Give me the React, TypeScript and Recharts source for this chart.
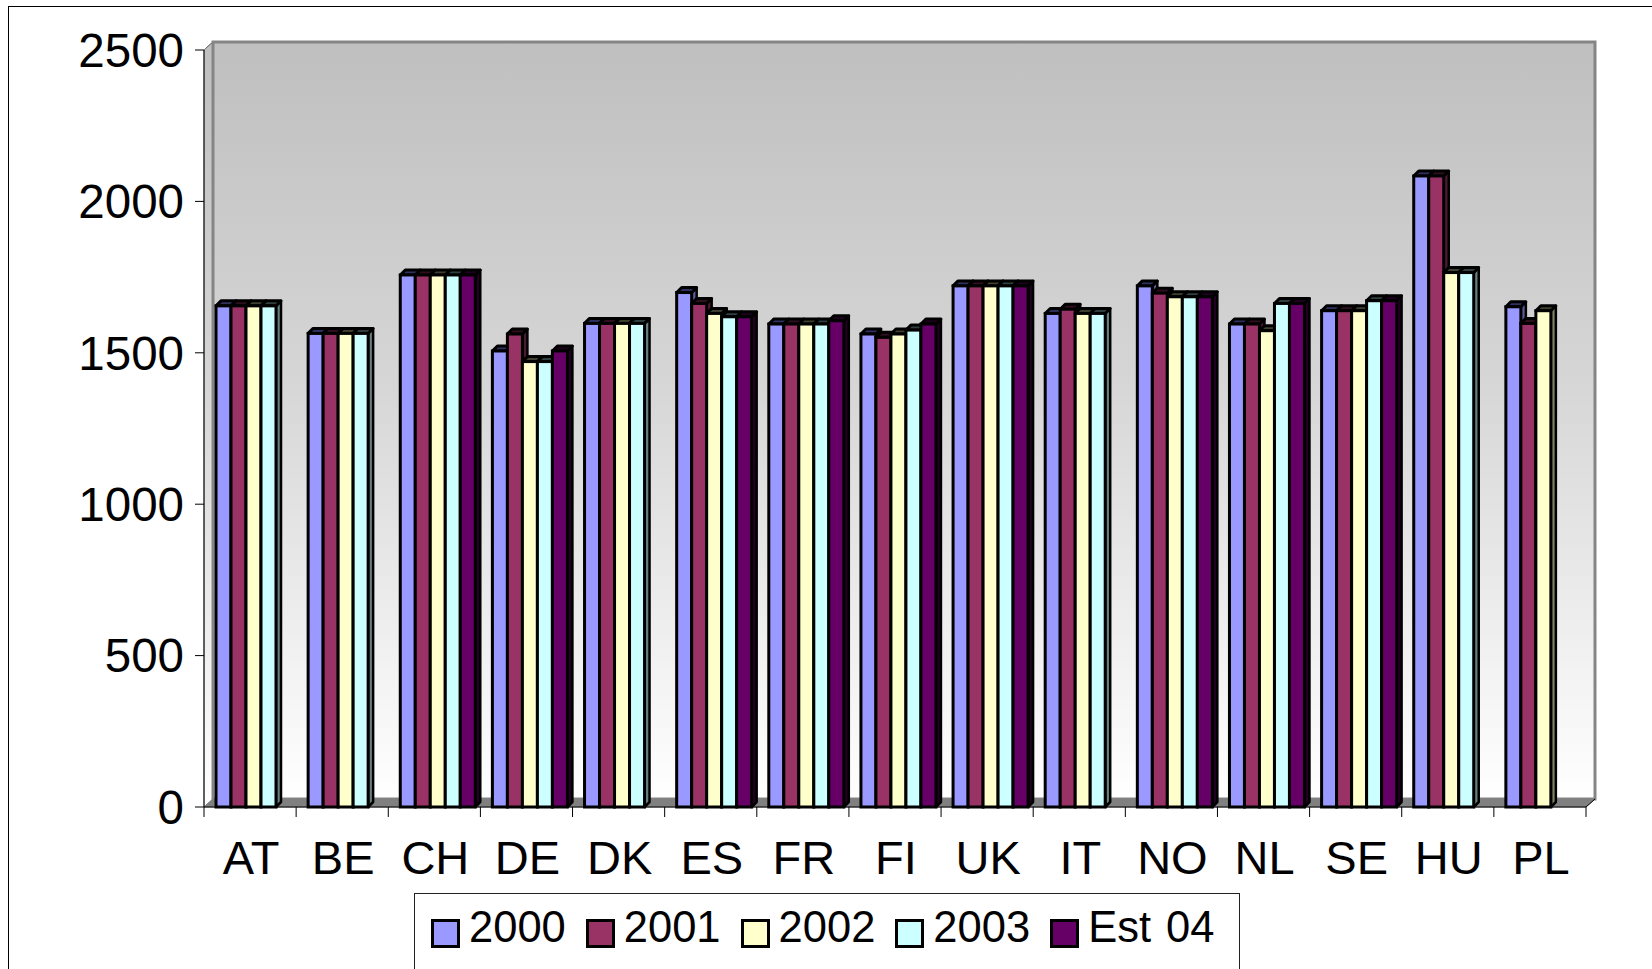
import { Bar, BarChart, CartesianGrid, Legend, ReferenceArea, XAxis, YAxis } from 'recharts';

const countries = ['AT', 'BE', 'CH', 'DE', 'DK', 'ES', 'FR', 'FI', 'UK', 'IT', 'NO', 'NL', 'SE', 'HU', 'PL'];

const y2000 = [1655, 1564, 1757, 1506, 1597, 1699, 1595, 1562, 1721, 1630, 1721, 1595, 1639, 2084, 1652];
const y2001 = [1655, 1564, 1757, 1562, 1597, 1663, 1595, 1551, 1721, 1644, 1697, 1595, 1639, 2084, 1597];
const y2002 = [1655, 1564, 1757, 1471, 1597, 1630, 1595, 1562, 1721, 1630, 1685, 1573, 1639, 1765, 1639];
const y2003 = [1655, 1564, 1757, 1471, 1597, 1619, 1595, 1575, 1721, 1630, 1685, 1663, 1672, 1765, null];
const est04 = [null, null, 1757, 1506, null, 1619, 1606, 1595, 1721, null, 1685, 1663, 1672, null, null];

const yTicks = [0, 500, 1000, 1500, 2000, 2500];

const series = [
  { key: 'y2000', name: '2000', values: y2000, fill: '#9999ff', top: '#303060', side: '#5c5c99' },
  { key: 'y2001', name: '2001', values: y2001, fill: '#993366', top: '#301020', side: '#4d1a33' },
  { key: 'y2002', name: '2002', values: y2002, fill: '#ffffcc', top: '#404030', side: '#808066' },
  { key: 'y2003', name: '2003', values: y2003, fill: '#ccffff', top: '#304040', side: '#668080' },
  { key: 'est04', name: 'Est 04', values: est04, fill: '#660066', top: '#200020', side: '#220022' },
];

const data = countries.map((c, i) => {
  const row: Record<string, string | number | null> = { country: c };
  series.forEach((s) => {
    row[s.key] = s.values[i];
  });
  return row;
});

const FONT = '"Liberation Sans", Arial, sans-serif';
const W = 1652;
const H = 969;
const PLOT_W = 1382;
// 3D depth of the chart walls and of the columns
const WALL_DX = 9;
const WALL_DY = 8;
const DX = 5;
const DY = 5;
const SHIFT = 4;

const Bar3D = (props: any) => {
  const { x, y, width, height, fill, top, side } = props;
  if (!height || height <= 0) return null;
  const x0 = x + SHIFT;
  const x1 = x0 + width;
  return (
    <g>
      <polygon
        points={`${x1},${y} ${x1 + DX},${y - DY} ${x1 + DX},${y + height - DY} ${x1},${y + height}`}
        fill={side}
        stroke="#000"
        strokeWidth={2.5}
        strokeLinejoin="round"
      />
      <polygon
        points={`${x0},${y} ${x0 + DX},${y - DY} ${x1 + DX},${y - DY} ${x1},${y}`}
        fill={top}
        stroke="#000"
        strokeWidth={3}
        strokeLinejoin="round"
      />
      <rect x={x0} y={y} width={width} height={height} fill={fill} stroke="#000" strokeWidth={3} />
    </g>
  );
};

const Walls = (props: any) => {
  const { x, y, width, height } = props;
  const bx = x + WALL_DX;
  const by = y - WALL_DY;
  const bottom = y + height;
  return (
    <g>
      <defs>
        <linearGradient id="wall" x1="0" x2="0" y1="0" y2="1">
          <stop offset="0%" stopColor="#bfbfbf" />
          <stop offset="45%" stopColor="#d6d6d6" />
          <stop offset="100%" stopColor="#ffffff" />
        </linearGradient>
      </defs>
      <polygon
        points={`${x},${y} ${bx},${by} ${bx},${bottom - WALL_DY} ${x},${bottom}`}
        fill="url(#wall)"
        stroke="#808080"
        strokeWidth={1}
      />
      <rect x={bx} y={by} width={width} height={height} fill="url(#wall)" stroke="#858585" strokeWidth={3} />
      <polygon
        points={`${x},${bottom} ${bx},${bottom - WALL_DY} ${bx + width},${bottom - WALL_DY} ${x + width},${bottom}`}
        fill="#808080"
        stroke="#808080"
        strokeWidth={1}
      />
    </g>
  );
};

const GridLine = (props: any) => {
  const { x1, y1, x2, y2 } = props;
  const isEdge = props.index === 0;
  return (
    <g>
      <line x1={x1} y1={y1} x2={x1 + WALL_DX} y2={y1 - WALL_DY} stroke="#000" strokeWidth={1} />
      {!isEdge && (
        <line x1={x1 + WALL_DX} y1={y1 - WALL_DY} x2={x2 + WALL_DX} y2={y2 - WALL_DY} stroke="#333" strokeWidth={1.3} />
      )}
    </g>
  );
};

const CountryTick = (props: any) => {
  const { x, y, payload, index } = props;
  const band = PLOT_W / countries.length;
  const left = x - band / 2;
  const right = x + band / 2;
  return (
    <g>
      <line x1={left} y1={y - 10} x2={left} y2={y} stroke="#000" strokeWidth={1} />
      {index === countries.length - 1 && (
        <g>
          <line x1={right} y1={y - 10} x2={right} y2={y} stroke="#000" strokeWidth={1} />
          <line x1={right} y1={y - 10} x2={right + WALL_DX} y2={y - 10 - WALL_DY} stroke="#000" strokeWidth={1} />
        </g>
      )}
      <text x={x + 1} y={y + 57} textAnchor="middle" fontSize={47} fontFamily={FONT} fill="#000">
        {payload.value}
      </text>
    </g>
  );
};

const LegendBox = () => (
  <div
    style={{
      boxSizing: 'border-box',
      width: 826,
      height: 90,
      border: '1.5px solid #222',
      background: '#fff',
      paddingTop: 12,
      paddingLeft: 16,
      display: 'flex',
      alignItems: 'flex-start',
      fontFamily: FONT,
      fontSize: 43.5,
      lineHeight: '43px',
      color: '#000',
    }}
  >
    {series.map((s, i) => (
      <div key={s.key} style={{ display: 'flex', alignItems: 'flex-start', marginLeft: i === 0 ? 0 : 20 }}>
        <span
          style={{
            boxSizing: 'border-box',
            display: 'inline-block',
            width: 29,
            height: 29,
            marginTop: 12.5,
            border: '3px solid #000',
            background: s.fill,
          }}
        />
        <span style={{ marginLeft: 9, whiteSpace: 'nowrap', wordSpacing: 3 }}>{s.name}</span>
      </div>
    ))}
  </div>
);

const App = () => (
  <div style={{ position: 'absolute', left: 0, top: 0, width: W, height: H, overflow: 'hidden', background: '#fff' }}>
    <div
      style={{
        position: 'absolute',
        left: 8,
        top: 6,
        width: 1700,
        height: 1000,
        border: '1.5px solid #000',
        boxSizing: 'border-box',
      }}
    />
    <div style={{ position: 'absolute', left: 0, top: 0 }}>
      <BarChart
        width={W}
        height={H}
        data={data}
        margin={{ top: 50, right: 66, left: 54, bottom: 12 }}
        barCategoryGap={8}
        barGap={0}
      >
        <ReferenceArea y1={0} y2={2500} shape={<Walls />} />
        <CartesianGrid vertical={false} horizontal={(p: any) => <GridLine key={p.key ?? p.index} {...p} />} />
        <XAxis
          dataKey="country"
          height={60}
          tickSize={10}
          tickMargin={0}
          tickLine={false}
          axisLine={{ stroke: '#000', strokeWidth: 1 }}
          interval={0}
          tick={<CountryTick />}
        />
        <YAxis
          width={150}
          domain={[0, 2500]}
          ticks={yTicks}
          interval={0}
          tickSize={9}
          tickMargin={11}
          axisLine={{ stroke: '#000', strokeWidth: 1 }}
          tickLine={{ stroke: '#000', strokeWidth: 1 }}
          tick={{ fill: '#000', fontSize: 47.5, fontFamily: FONT }}
        />
        <Legend
          verticalAlign="bottom"
          content={<LegendBox />}
          wrapperStyle={{ left: 414, top: 893, bottom: 'auto', width: 826, height: 90 }}
        />
        {series.map((s) => (
          <Bar
            key={s.key}
            dataKey={s.key}
            name={s.name}
            fill={s.fill}
            isAnimationActive={false}
            shape={(p: any) => <Bar3D {...p} top={s.top} side={s.side} />}
          />
        ))}
      </BarChart>
    </div>
  </div>
);

export default App;
